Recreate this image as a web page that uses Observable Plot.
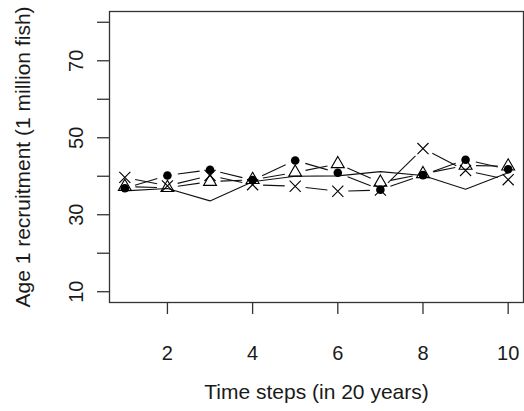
<!DOCTYPE html>
<html>
<head>
<meta charset="utf-8">
<script src="https://cdn.jsdelivr.net/npm/d3@7"></script>
<script src="https://cdn.jsdelivr.net/npm/@observablehq/plot@0.6"></script>
<style>
  html, body { margin: 0; padding: 0; background: #fff; }
  #chart svg { display: block; }
</style>
</head>
<body>
<div id="chart"></div>
<script>
// Time steps (each step = 20 years)
const steps = [1, 2, 3, 4, 5, 6, 7, 8, 9, 10];

// Age 1 recruitment, million fish, per scenario
const lineOnly  = [36.2, 36.8, 33.6, 38.6, 40.0, 40.1, 41.2, 40.2, 36.6, 40.9];
const circles   = [36.9, 40.2, 41.7, 39.0, 44.1, 40.9, 36.5, 40.3, 44.3, 41.8];
const triangles = [37.3, 37.0, 38.6, 39.1, 41.0, 43.2, 38.4, 40.6, 42.8, 42.6];
const crosses   = [39.7, 37.5, 40.2, 37.8, 37.4, 36.1, 36.4, 47.2, 41.5, 39.1];

// Axis ticks
const xTicks = [2, 4, 6, 8, 10];
const yTicks = [10, 20, 30, 40, 50, 60, 70, 80];
const yLabelled = [10, 30, 50, 70];

const xTitle = "Time steps (in 20 years)";
const yTitle = "Age 1 recruitment (1 million fish)";

const font = "'Liberation Sans', Arial, Helvetica, sans-serif";
const ink = "#1a1a1a";

const toPoints = (vals) => steps.map((t, i) => ({t, v: vals[i]}));
const toSegments = (vals) => d3.pairs(toPoints(vals));

// "both" style series: segments stop short of each symbol
const gapped = (vals) => Plot.arrow(toSegments(vals), {
  x1: d => d[0].t, y1: d => d[0].v,
  x2: d => d[1].t, y2: d => d[1].v,
  bend: 0, headLength: 0,
  insetStart: 10.5, insetEnd: 10.5,
  stroke: "#111", strokeWidth: 1.1, strokeLinecap: "butt"
});

const chart = Plot.plot({
  width: 524,
  height: 411,
  marginLeft: 109,
  marginRight: 1,
  marginTop: 11,
  marginBottom: 109,
  style: {fontFamily: font, color: ink, background: "#fff"},
  x: {domain: [0.64, 10.36], label: null},
  y: {domain: [7.2, 82.8], label: null},
  marks: [
    Plot.frame({stroke: "#333", strokeWidth: 1.3}),
    Plot.axisX({
      ticks: xTicks, tickSize: 12, tickPadding: 31,
      fontSize: 20, label: null, stroke: "#333", strokeWidth: 1.3
    }),
    Plot.axisY({
      ticks: yTicks, tickSize: 12, tickPadding: 15,
      tickRotate: -90, fontSize: 20, label: null,
      tickFormat: d => yLabelled.includes(d) ? String(d) : "",
      stroke: "#333", strokeWidth: 1.3
    }),
    Plot.text([xTitle], {frameAnchor: "bottom", textAnchor: "middle", dy: 96, fontSize: 21, fill: ink}),
    Plot.text([yTitle], {frameAnchor: "left", textAnchor: "middle", rotate: -90, dx: -86, fontSize: 21, fill: ink}),

    // plain line series
    Plot.line(toPoints(lineOnly), {x: "t", y: "v", stroke: "#111", strokeWidth: 1.1}),

    // filled circles
    gapped(circles),
    Plot.dot(toPoints(circles), {x: "t", y: "v", r: 4.3, fill: "#000", stroke: "none"}),

    // open triangles
    gapped(triangles),
    Plot.dot(toPoints(triangles), {x: "t", y: "v", symbol: "triangle", r: 4.8, fill: "none", stroke: "#000", strokeWidth: 1.1}),

    // crosses
    gapped(crosses),
    Plot.dot(toPoints(crosses), {x: "t", y: "v", symbol: "times", r: 5.1, fill: "none", stroke: "#000", strokeWidth: 1.1})
  ]
});

document.getElementById("chart").append(chart);
</script>
</body>
</html>
